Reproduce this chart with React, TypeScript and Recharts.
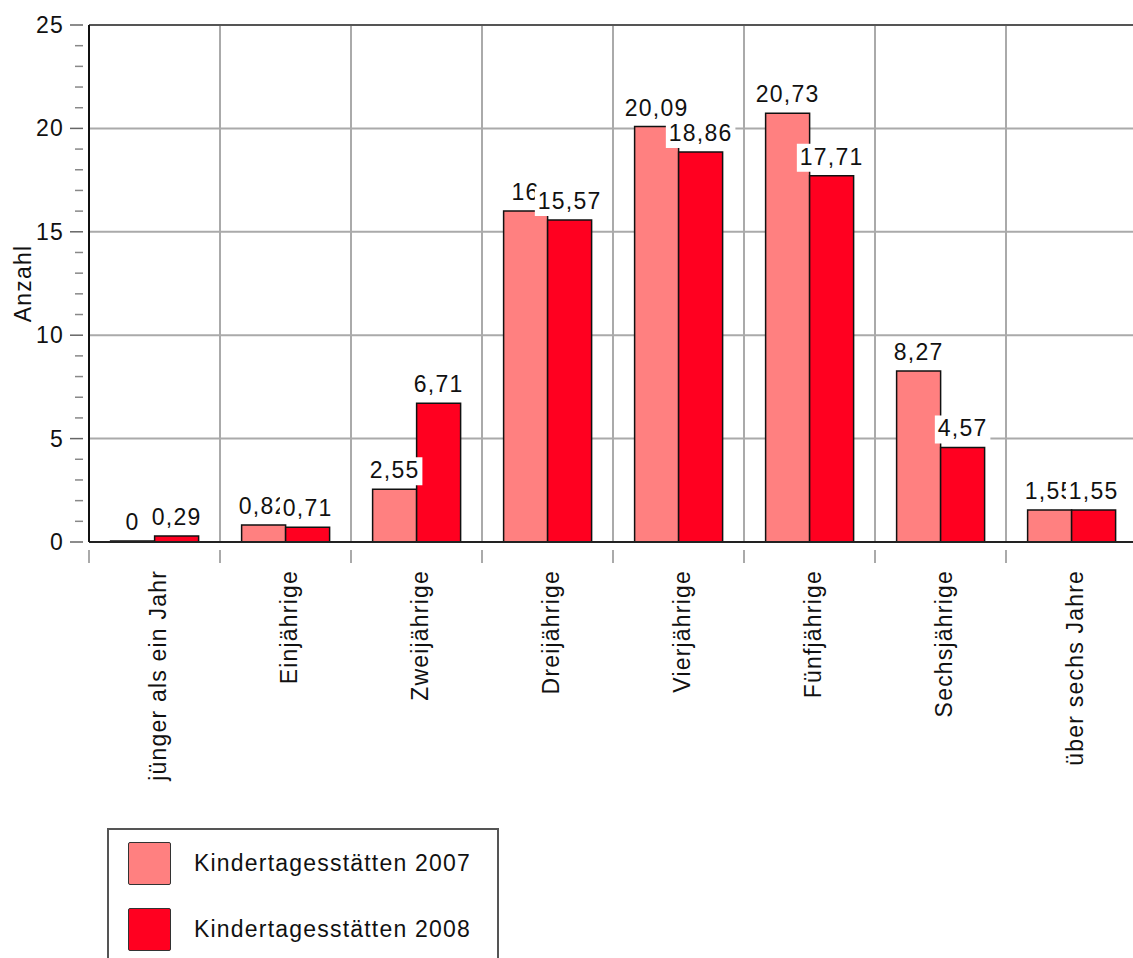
import React from 'react';
import { BarChart, Bar, XAxis, YAxis, CartesianGrid, Legend, LabelList, ReferenceLine } from 'recharts';

const categories = ['jünger als ein Jahr', 'Einjährige', 'Zweijährige', 'Dreijährige', 'Vierjährige', 'Fünfjährige', 'Sechsjährige', 'über sechs Jahre'];
const kita2007 = [0, 0.82, 2.55, 16, 20.09, 20.73, 8.27, 1.55];
const kita2008 = [0.29, 0.71, 6.71, 15.57, 18.86, 17.71, 4.57, 1.55];
const seriesNames = ['Kindertagesstätten 2007', 'Kindertagesstätten 2008'];
const seriesColors = ['#FF8080', '#FF0020'];
const yTicks = Array.from({ length: 26 }, (_, i) => i);
const yGrid = [5, 10, 15, 20];

const data = categories.map((c, i) => ({ name: c, a: kita2007[i], b: kita2008[i] }));

const FONT = '"Liberation Sans", Arial, Helvetica, sans-serif';
const FS = 23;
const LS = 1.2;

const fmt = (v: number) => String(v).replace('.', ',');

const textWidth = (s: string) => {
  let w = 0;
  for (const ch of s) w += ch === ',' ? 0.278 : 0.556;
  return w * FS + LS * s.length;
};

const ValueLabel = (props: any) => {
  const { x, y, width, value } = props;
  const s = fmt(value);
  const cx = x + width / 2;
  const w = textWidth(s) + 6;
  return (
    <g>
      <rect x={cx - w / 2} y={y - 32} width={w} height={28} fill="#fff" />
      <text x={cx} y={y - 11} textAnchor="middle" fontFamily={FONT} fontSize={FS} letterSpacing={LS} fill="#111">{s}</text>
    </g>
  );
};

const YTick = (props: any) => {
  const { x, y, payload } = props;
  const major = payload.value % 5 === 0;
  return (
    <g>
      <line x1={x + 2 - (major ? 13 : 8)} x2={x + 2} y1={y} y2={y} stroke={major ? '#666' : '#888'} strokeWidth={1.5} />
      {major && (
        <text x={x - 17} y={y} dy="0.35em" textAnchor="end" fontFamily={FONT} fontSize={FS} letterSpacing={LS} fill="#111">{payload.value}</text>
      )}
    </g>
  );
};

const XTick = (props: any) => {
  const { x, y, payload, index } = props;
  const half = payload.offset || 0;
  return (
    <g>
      <line x1={x - half} x2={x - half} y1={y} y2={y + 13} stroke="#aaa" strokeWidth={2} />
      {index === categories.length - 1 && (
        <line x1={x + half} x2={x + half} y1={y} y2={y + 13} stroke="#aaa" strokeWidth={2} />
      )}
      <text
        x={x + 3}
        y={y + 20}
        dy="0.35em"
        textAnchor="end"
        transform={`rotate(-90, ${x + 3}, ${y + 20})`}
        fontFamily={FONT}
        fontSize={FS}
        letterSpacing={LS}
        fill="#111"
      >
        {payload.value}
      </text>
    </g>
  );
};

const LegendBox = () => (
  <div style={{ border: '2px solid #555', width: 392, height: 160, boxSizing: 'border-box', background: '#fff', fontFamily: FONT, fontSize: FS, letterSpacing: LS, color: '#111' }}>
    {seriesNames.map((n, i) => (
      <div key={n} style={{ position: 'absolute', left: 21, top: 14 + i * 66, display: 'flex', alignItems: 'center' }}>
        <div style={{ width: 43, height: 43, background: seriesColors[i], border: '1.5px solid #333', borderRadius: 2, boxSizing: 'border-box' }} />
        <span style={{ marginLeft: 23 }}>{n}</span>
      </div>
    ))}
  </div>
);

const verticalGen = ({ offset }: any) =>
  Array.from({ length: categories.length + 1 }, (_, i) => offset.left + (i * offset.width) / categories.length);

export default function App() {
  return (
    <div style={{ position: 'fixed', left: 0, top: 0, width: 1133, height: 958, overflow: 'hidden', background: '#fff' }}>
      <BarChart width={1145} height={958} data={data} margin={{ top: 25, right: 8, left: 0, bottom: 0 }} barGap={0} barCategoryGap="16.5%">
        <CartesianGrid horizontalValues={yGrid} verticalCoordinatesGenerator={verticalGen} stroke="#aaa" strokeWidth={2} />
        <ReferenceLine y={25} stroke="#555" strokeWidth={2} />
        <XAxis dataKey="name" interval={0} height={416} tick={<XTick />} tickLine={false} axisLine={{ stroke: '#222', strokeWidth: 2 }} />
        <YAxis
          width={89}
          domain={[0, 25]}
          ticks={yTicks}
          interval={0}
          tick={<YTick />}
          tickLine={false}
          axisLine={{ stroke: '#111', strokeWidth: 2 }}
          label={{ value: 'Anzahl', angle: -90, position: 'center', dx: -22, fontFamily: FONT, fontSize: FS, letterSpacing: LS, fill: '#111' } as any}
        />
        <Legend layout="vertical" align="center" verticalAlign="middle" content={<LegendBox />} wrapperStyle={{ position: 'absolute', left: 107, top: 828, width: 392, height: 160 }} />
        <Bar dataKey="a" name={seriesNames[0]} fill={seriesColors[0]} stroke="#111" strokeWidth={1.5} minPointSize={1} isAnimationActive={false}>
          <LabelList dataKey="a" content={<ValueLabel />} />
        </Bar>
        <Bar dataKey="b" name={seriesNames[1]} fill={seriesColors[1]} stroke="#111" strokeWidth={1.5} minPointSize={1} isAnimationActive={false}>
          <LabelList dataKey="b" content={<ValueLabel />} />
        </Bar>
      </BarChart>
    </div>
  );
}
